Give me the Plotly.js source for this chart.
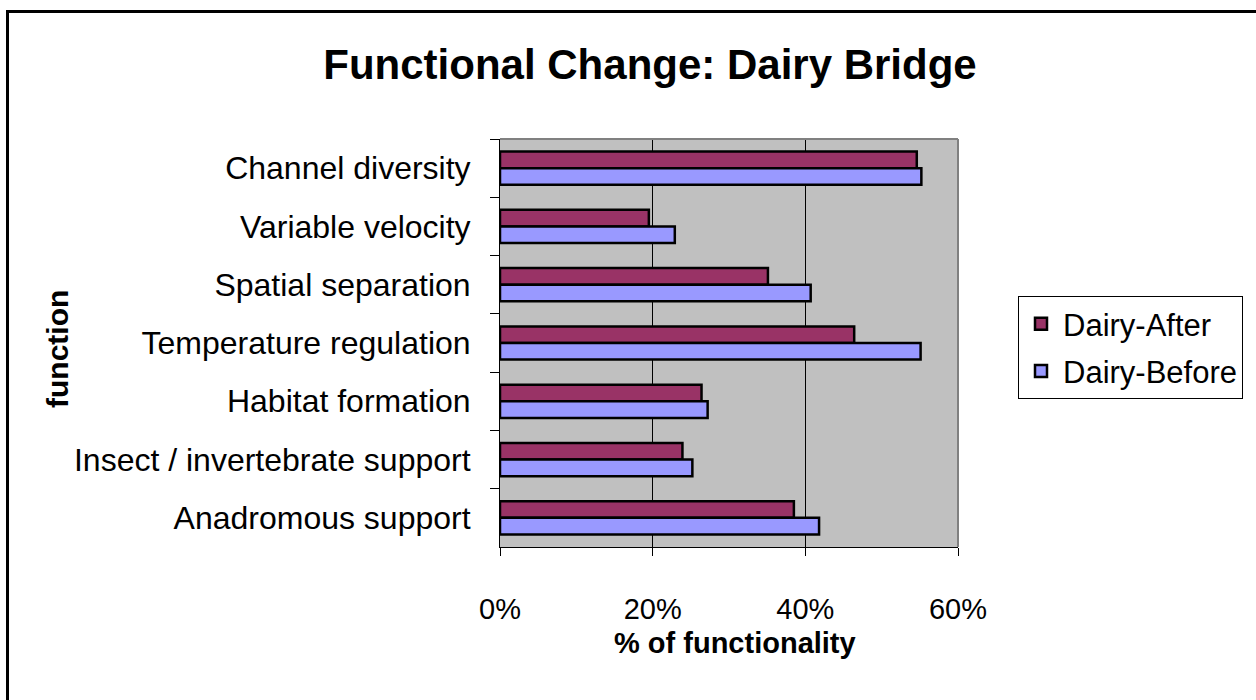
<!DOCTYPE html>
<html>
<head>
<meta charset="utf-8">
<script src="https://cdn.plot.ly/plotly-3.0.1.min.js"></script>
<style>
  html, body { margin: 0; padding: 0; background: #ffffff; overflow: hidden; }
  #chart { width: 1256px; height: 700px; }
</style>
</head>
<body>
<div id="chart"></div>
<script>
// Categories listed top to bottom as in the reference
var categories = [
  "Channel diversity",
  "Variable velocity",
  "Spatial separation",
  "Temperature regulation",
  "Habitat formation",
  "Insect / invertebrate support",
  "Anadromous support"
];
var dairyAfter  = [0.546, 0.195, 0.351, 0.464, 0.264, 0.239, 0.385];
var dairyBefore = [0.552, 0.229, 0.407, 0.551, 0.272, 0.252, 0.418];
var xTickValues = [0, 0.2, 0.4, 0.6];
var xTickLabels = ["0%", "20%", "40%", "60%"];

var FONT = "Liberation Sans, Arial, Helvetica, sans-serif";

// plot area in pixels: x 500..958, y 139..547
var L = 500, R = 958, T = 139, B = 547, W = 1256, H = 700;
function px2x(p) { return (p - L) / (R - L); }
function px2y(p) { return (B - p) / (B - T); }

var traces = [
  {
    type: "bar", orientation: "h", name: "Dairy-After", legendgroup: "a",
    y: categories, x: dairyAfter,
    marker: { color: "#993366", line: { color: "#000000", width: 2.5 } },
    hoverinfo: "skip"
  },
  {
    type: "bar", orientation: "h", name: "Dairy-Before", legendgroup: "b",
    y: categories, x: dairyBefore,
    marker: { color: "#9999ff", line: { color: "#000000", width: 2.5 } },
    hoverinfo: "skip"
  }
];

var layout = {
  width: W, height: H,
  margin: { l: L, r: W - R, t: T, b: H - B, pad: 0 },
  paper_bgcolor: "#ffffff",
  plot_bgcolor: "#c0c0c0",
  barmode: "group",
  bargap: 0.43,
  bargroupgap: 0,
  font: { family: FONT, color: "#000000", size: 30 },
  title: {
    text: "<b>Functional Change: Dairy Bridge</b>",
    font: { family: FONT, size: 42, color: "#000000" },
    xref: "container", x: 650 / W, xanchor: "center",
    yref: "container", y: 1 - 64 / H, yanchor: "middle"
  },
  xaxis: {
    range: [0, 0.6],
    tickvals: xTickValues, ticktext: xTickLabels,
    showgrid: true, gridcolor: "#000000", gridwidth: 1,
    zeroline: false,
    showline: true, linecolor: "#000000", linewidth: 1,
    ticks: "outside", ticklen: 8, tickcolor: "#000000", tickwidth: 1,
    ticklabelstandoff: 28,
    tickfont: { family: FONT, size: 29, color: "#000000" },
    fixedrange: true
  },
  yaxis: {
    type: "category",
    autorange: "reversed",
    showgrid: false, zeroline: false,
    showline: true, linecolor: "#000000", linewidth: 1,
    ticks: "outside", tickson: "boundaries", ticklen: 9,
    tickcolor: "#000000", tickwidth: 1,
    ticklabelstandoff: 22,
    tickfont: { family: FONT, size: 32, color: "#000000" },
    fixedrange: true
  },
  legend: {
    x: px2x(1018), xanchor: "left",
    y: px2y(296), yanchor: "top",
    bgcolor: "#ffffff",
    bordercolor: "#000000", borderwidth: 1,
    font: { family: FONT, size: 31, color: "#000000" },
    traceorder: "grouped",
    tracegroupgap: 4,
    itemwidth: 34
  },
  annotations: [
    {
      text: "<b>% of functionality</b>",
      xref: "paper", yref: "paper",
      x: px2x(735), y: px2y(643),
      xanchor: "center", yanchor: "middle",
      showarrow: false,
      font: { family: FONT, size: 29, color: "#000000" }
    },
    {
      text: "<b>function</b>",
      xref: "paper", yref: "paper",
      x: px2x(57), y: px2y(349),
      xanchor: "center", yanchor: "middle",
      textangle: -90,
      showarrow: false,
      font: { family: FONT, size: 30, color: "#000000" }
    }
  ],
  shapes: [
    // outer chart border: left and top edges
    {
      type: "line", xref: "paper", yref: "paper", layer: "above",
      x0: px2x(7.5), x1: px2x(7.5), y0: px2y(700), y1: px2y(10),
      line: { color: "#000000", width: 3 }
    },
    {
      type: "line", xref: "paper", yref: "paper", layer: "above",
      x0: px2x(6), x1: px2x(1256), y0: px2y(11.5), y1: px2y(11.5),
      line: { color: "#000000", width: 3 }
    },
    // plot area frame top and right (gray)
    {
      type: "line", xref: "paper", yref: "paper", layer: "above",
      x0: 0, x1: 1, y0: 1, y1: 1,
      line: { color: "#808080", width: 2 }
    },
    {
      type: "line", xref: "paper", yref: "paper", layer: "above",
      x0: 1, x1: 1, y0: 0, y1: 1,
      line: { color: "#808080", width: 2 }
    }
  ],
  showlegend: true
};

Plotly.newPlot("chart", traces, layout, { displayModeBar: false, staticPlot: true });
</script>
</body>
</html>
